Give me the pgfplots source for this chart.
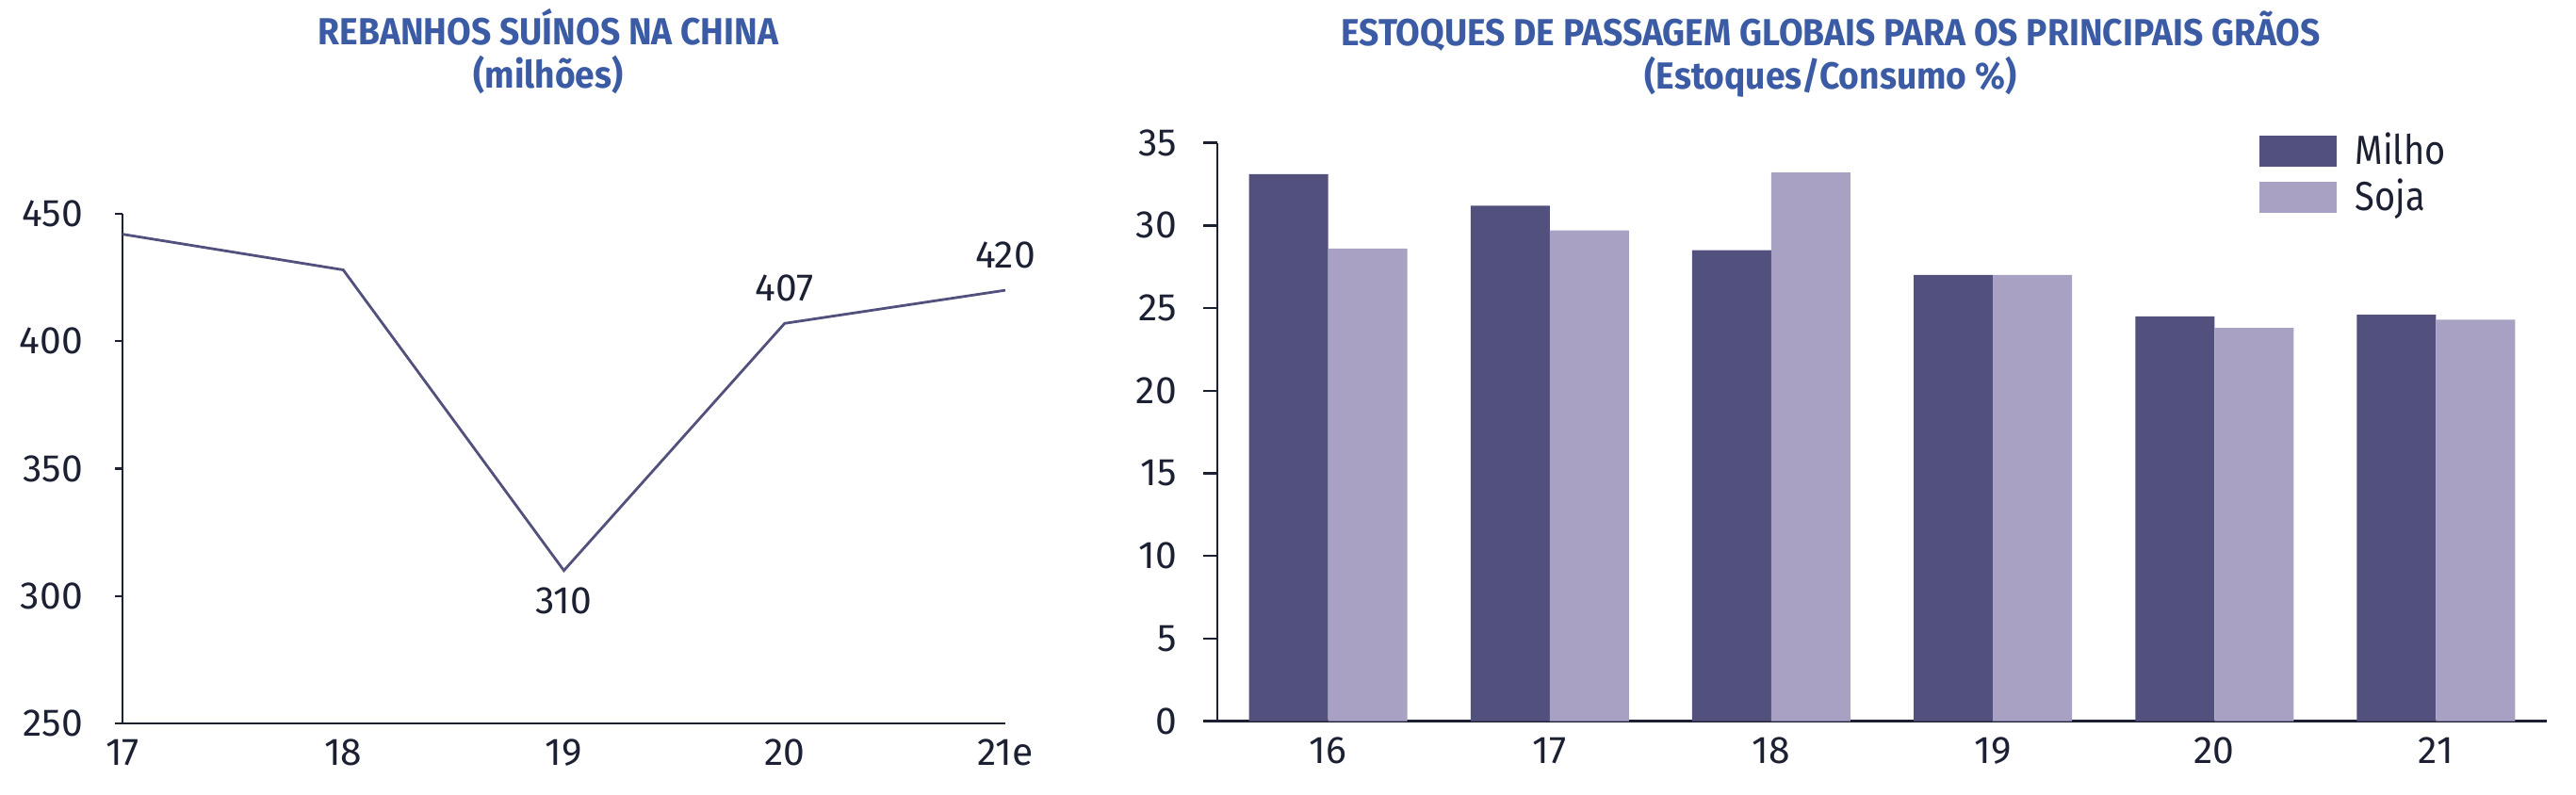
\documentclass[border=0pt]{standalone}
\usepackage{graphicx}
\usepackage{pgfplots}
\pgfplotsset{compat=1.18}
\usepackage{fontspec}
\setmainfont{Fira Sans}
\definecolor{titleblue}{HTML}{3B5BA5}
\definecolor{milho}{HTML}{52507C}
\definecolor{soja}{HTML}{A8A1C4}
\definecolor{axisc}{HTML}{1C2033}
\pgfplotsset{
  common/.style={
    scale only axis,
    anchor=south west,
    axis x line*=bottom,
    axis y line*=left,
    axis line style={-, draw=axisc, line width=0.6pt},
    tick align=outside,
    xtick style={draw=none},
    ytick style={draw=axisc, line width=0.6pt},
    ticklabel style={font=\fontsize{10.2}{11}\selectfont, text=axisc},
    /pgf/number format/assume math mode=true,
    /pgf/number format/1000 sep={},
  }
}
\begin{document}
\begin{tikzpicture}[x=1pt,y=1pt]
\useasboundingbox (0,0) rectangle (683.5,211);
\node[font=\fontsize{10}{11.5}\selectfont\bfseries, text=titleblue, align=center, xscale=0.93, transform shape] at (145.5,197.25) {REBANHOS SUÍNOS NA CHINA\\(milhões)};
\node[font=\fontsize{10}{11.5}\selectfont\bfseries, text=titleblue, align=center, xscale=0.93, transform shape] at (485.75,196.5) {ESTOQUES DE PASSAGEM GLOBAIS PARA OS PRINCIPAIS GRÃOS\\(Estoques/Consumo \%)};

\begin{axis}[common,
  at={(32.5pt,19pt)}, width=234.25pt, height=135.25pt,
  xmin=0, xmax=4, ymin=250, ymax=450,
  ytick={250,300,350,400,450},
  xtick={0,1,2,3,4}, xticklabels={17,18,19,20,21e},
  major tick length=2pt,
  x axis line style={shorten <=-2pt},
  yticklabel style={xshift=-5pt},
  xticklabel style={yshift=1.3pt},
  clip=false,
]
\addplot[color=milho, line width=0.7pt, mark=none] coordinates {(0,442) (1,428) (2,310) (3,407) (4,420)};
\addplot[draw=none, mark=none, nodes near coords, point meta=y,
  every node near coord/.append style={font=\fontsize{10.2}{11}\selectfont, text=axisc, anchor=north, yshift=-1pt}] coordinates {(2,310)};
\addplot[draw=none, mark=none, nodes near coords, point meta=y,
  every node near coord/.append style={font=\fontsize{10.2}{11}\selectfont, text=axisc, anchor=south, yshift=2.2pt}] coordinates {(3,407) (4,420)};
\end{axis}

\begin{axis}[common,
  at={(323pt,19.6pt)}, width=352.75pt, height=153.5pt,
  xmin=-0.5, xmax=5.5, ymin=0, ymax=35,
  ytick={0,5,10,15,20,25,30,35},
  xtick={0,1,2,3,4,5}, xticklabels={16,17,18,19,20,21},
  major tick length=3.75pt,
  x axis line style={shorten <=-3.75pt},
  yticklabel style={xshift=-3.5pt},
  xticklabel style={yshift=3pt},
  ybar=0pt, bar width=21pt,
  legend style={at={(0.783,1.027)}, anchor=north west, draw=none, fill=none, inner sep=0pt,
    row sep=-0.3pt, font=\fontsize{10.8}{12}\selectfont, text=axisc,
    nodes={inner ysep=1.3pt},
    /tikz/every odd column/.append style={column sep=3pt}},
  legend cell align=left,
  legend image code/.code={\fill[#1] (0pt,-4.1pt) rectangle (20.5pt,4.1pt);},
]
\addplot[fill=milho, draw=none] coordinates {(0,33.1) (1,31.2) (2,28.5) (3,27.0) (4,24.5) (5,24.6)};
\addplot[fill=soja, draw=none] coordinates {(0,28.6) (1,29.7) (2,33.2) (3,27.0) (4,23.8) (5,24.3)};
\legend{\scalebox{0.88}[1]{Milho},\scalebox{0.88}[1]{Soja}}
\end{axis}
\end{tikzpicture}
\end{document}
